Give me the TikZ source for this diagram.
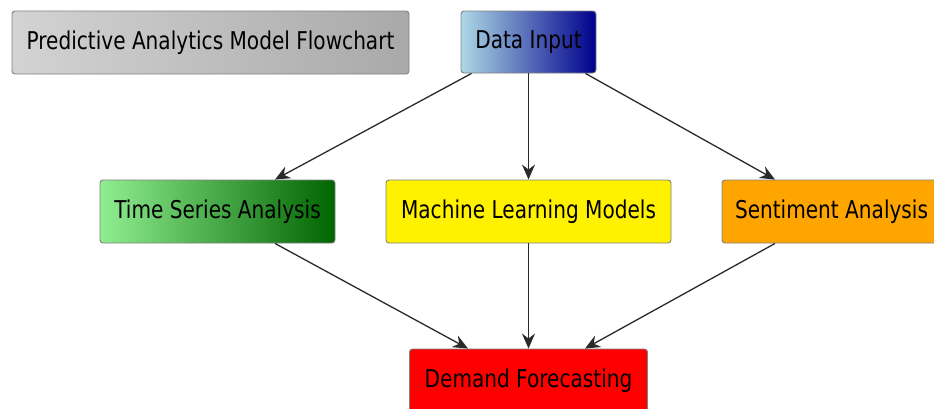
\documentclass[tikz,border=0pt]{standalone}
\usepackage{fontspec}
\setmainfont{DejaVu Sans}[FakeStretch=0.82]
\usetikzlibrary{arrows.meta}

\definecolor{lgray}{HTML}{D3D3D3}
\definecolor{dgray}{HTML}{A9A9A9}
\definecolor{lblue}{HTML}{ADD8E6}
\definecolor{dblue}{HTML}{00008B}
\definecolor{lgreen}{HTML}{90EE90}
\definecolor{dgreen}{HTML}{006400}
\definecolor{orng}{HTML}{FFA500}
\definecolor{edge}{HTML}{2A2A2A}

\tikzset{
  box/.style={draw=gray, line width=0.9pt, rounded corners=3pt,
    minimum height=63pt, inner sep=0pt, text=black,
    font=\fontsize{24.5}{28}\selectfont},
  arr/.style={draw=edge, line width=1.3pt,
    -{Stealth[length=15pt,width=13pt,inset=5pt]}}
}

\begin{document}
\begin{tikzpicture}[x=1pt, y=-1pt]
\useasboundingbox (0,0) rectangle (934,408);

\node[box, minimum width=397pt, left color=lgray, right color=dgray]
  (title) at (210.5,42.5) {Predictive Analytics Model Flowchart};
\node[box, minimum width=135pt, minimum height=62pt, left color=lblue, right color=dblue]
  (data) at (528.5,42) {Data Input};
\node[box, minimum width=235pt, left color=lgreen, right color=dgreen]
  (ts) at (217.5,211.5) {Time Series Analysis};
\node[box, minimum width=285pt, fill=yellow]
  (ml) at (528.5,211.5) {Machine Learning Models};
\node[box, minimum width=219pt, fill=orng]
  (sent) at (831.5,211.5) {Sentiment Analysis};
\node[box, minimum width=238pt, fill=red]
  (dem) at (528.5,380.5) {Demand Forecasting};

\draw[arr] ([xshift=-57pt]data.south) -- ([xshift=57.5pt]ts.north);
\draw[arr] (data.south) -- (ml.north);
\draw[arr] ([xshift=57pt]data.south) -- ([xshift=-56.5pt]sent.north);
\draw[arr] ([xshift=57.5pt]ts.south) -- ([xshift=-60.5pt]dem.north);
\draw[arr] (ml.south) -- (dem.north);
\draw[arr] ([xshift=-56.5pt]sent.south) -- ([xshift=56.5pt]dem.north);
\end{tikzpicture}
\end{document}
